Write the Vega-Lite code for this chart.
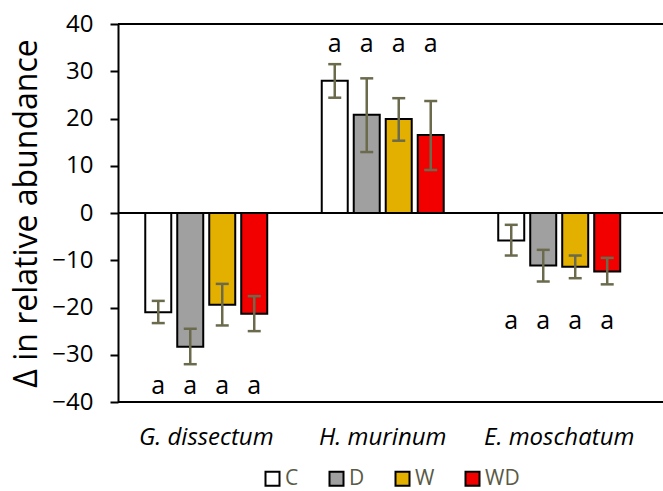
{
  "$schema": "https://vega.github.io/schema/vega-lite/v6.json",
  "autosize": "none",
  "width": 545,
  "height": 378,
  "padding": {"left": 118, "top": 24, "right": 0, "bottom": 89},
  "background": "white",
  "config": {
    "font": "Open Sans",
    "view": {"stroke": null},
    "axis": {"grid": false}
  },
  "datasets": {
    "bars": [
      {"species": "G. dissectum", "treatment": "C", "value": -21.0, "lo": -23.3, "hi": -18.6, "letter": "a", "letter_y": -38.3},
      {"species": "G. dissectum", "treatment": "D", "value": -28.3, "lo": -32.0, "hi": -24.5, "letter": "a", "letter_y": -38.3},
      {"species": "G. dissectum", "treatment": "W", "value": -19.4, "lo": -23.8, "hi": -15.0, "letter": "a", "letter_y": -38.3},
      {"species": "G. dissectum", "treatment": "WD", "value": -21.3, "lo": -25.0, "hi": -17.6, "letter": "a", "letter_y": -38.3},
      {"species": "H. murinum", "treatment": "C", "value": 28.0, "lo": 24.4, "hi": 31.5, "letter": "a", "letter_y": 34.1},
      {"species": "H. murinum", "treatment": "D", "value": 20.8, "lo": 12.9, "hi": 28.5, "letter": "a", "letter_y": 34.1},
      {"species": "H. murinum", "treatment": "W", "value": 19.9, "lo": 15.3, "hi": 24.3, "letter": "a", "letter_y": 34.1},
      {"species": "H. murinum", "treatment": "WD", "value": 16.5, "lo": 9.1, "hi": 23.7, "letter": "a", "letter_y": 34.1},
      {"species": "E. moschatum", "treatment": "C", "value": -5.8, "lo": -9.0, "hi": -2.5, "letter": "a", "letter_y": -24.5},
      {"species": "E. moschatum", "treatment": "D", "value": -11.1, "lo": -14.5, "hi": -7.8, "letter": "a", "letter_y": -24.5},
      {"species": "E. moschatum", "treatment": "W", "value": -11.4, "lo": -13.8, "hi": -9.0, "letter": "a", "letter_y": -24.5},
      {"species": "E. moschatum", "treatment": "WD", "value": -12.4, "lo": -15.1, "hi": -9.5, "letter": "a", "letter_y": -24.5}
    ],
    "lines": [{"y": 40}, {"y": 0}, {"y": -40}]
  },
  "encoding": {
    "x": {
      "field": "species",
      "type": "nominal",
      "sort": ["G. dissectum", "H. murinum", "E. moschatum"],
      "scale": {"paddingInner": 0, "paddingOuter": 0.044, "align": 0},
      "axis": {
        "title": null,
        "ticks": false,
        "domain": false,
        "labelAngle": 0,
        "labelFont": "Open Sans",
        "labelFontStyle": "italic",
        "labelFontSize": 24,
        "labelColor": "#000000",
        "labelPadding": 23
      }
    },
    "xOffset": {
      "field": "treatment",
      "type": "nominal",
      "sort": ["C", "D", "W", "WD"],
      "scale": {"paddingInner": 0.1875, "paddingOuter": 0.852}
    }
  },
  "layer": [
    {
      "data": {"name": "bars"},
      "mark": {"type": "bar", "stroke": "#000000", "strokeWidth": 2},
      "encoding": {
        "y": {
          "field": "value",
          "type": "quantitative",
          "scale": {"domain": [-40, 40], "nice": false},
          "axis": {
            "title": "Δ in relative abundance",
            "titleFont": "Open Sans",
            "titleFontSize": 32,
            "titleFontWeight": "normal",
            "titleColor": "#000000",
            "titlePadding": 8,
            "values": [-40, -30, -20, -10, 0, 10, 20, 30, 40],
            "labelFont": "Open Sans",
            "labelFontSize": 24,
            "labelColor": "#000000",
            "labelPadding": 17,
            "tickSize": 8,
            "tickWidth": 2,
            "tickColor": "#000000",
            "domainWidth": 2,
            "domainColor": "#000000"
          }
        },
        "fill": {
          "field": "treatment",
          "type": "nominal",
          "sort": ["C", "D", "W", "WD"],
          "scale": {"domain": ["C", "D", "W", "WD"], "range": ["#ffffff", "#a0a0a0", "#e3b000", "#f20000"]},
          "legend": {
            "title": null,
            "orient": "none",
            "direction": "horizontal",
            "legendX": 144,
            "legendY": 444,
            "padding": 0,
            "symbolType": "square",
            "symbolSize": 196,
            "symbolStrokeColor": "#000000",
            "symbolStrokeWidth": 2,
            "symbolOpacity": 1,
            "labelFont": "Open Sans",
            "labelFontSize": 21,
            "labelColor": "#5a5a48",
            "labelOffset": 2,
            "labelLimit": 100,
            "columnPadding": 26
          }
        }
      }
    },
    {
      "data": {"name": "lines"},
      "mark": {"type": "rule", "stroke": "#000000", "strokeWidth": 2},
      "encoding": {
        "x": null,
        "xOffset": null,
        "y": {"field": "y", "type": "quantitative"}
      }
    },
    {
      "data": {"name": "bars"},
      "mark": {"type": "rule", "stroke": "#6b6a4d", "strokeWidth": 2.5},
      "encoding": {
        "y": {"field": "lo", "type": "quantitative"},
        "y2": {"field": "hi"}
      }
    },
    {
      "data": {"name": "bars"},
      "mark": {"type": "tick", "color": "#6b6a4d", "thickness": 2.5, "size": 13, "opacity": 1},
      "encoding": {
        "y": {"field": "lo", "type": "quantitative"}
      }
    },
    {
      "data": {"name": "bars"},
      "mark": {"type": "tick", "color": "#6b6a4d", "thickness": 2.5, "size": 13, "opacity": 1},
      "encoding": {
        "y": {"field": "hi", "type": "quantitative"}
      }
    },
    {
      "data": {"name": "bars"},
      "mark": {"type": "text", "font": "Open Sans", "fontSize": 25, "baseline": "alphabetic", "align": "center", "color": "#000000"},
      "encoding": {
        "y": {"field": "letter_y", "type": "quantitative"},
        "text": {"field": "letter"}
      }
    }
  ]
}
